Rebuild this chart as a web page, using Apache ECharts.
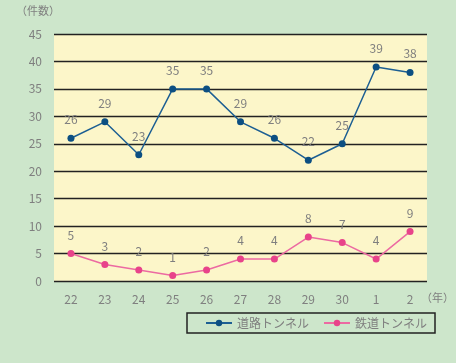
<!DOCTYPE html>
<html><head><meta charset="utf-8">
<script src="https://cdn.jsdelivr.net/npm/echarts@6/dist/echarts.min.js"></script>
<style>html,body{margin:0;padding:0;background:#cde6cb;}#c{width:456px;height:363px;}</style>
</head><body><div id="c"></div>
<script>
const categories = ['22','23','24','25','26','27','28','29','30','1','2'];
const roadTunnel = [26,29,23,35,35,29,26,22,25,39,38];
const railTunnel = [5,3,2,1,2,4,4,8,7,4,9];
const yTicks = {min:0, max:45, interval:5};
const font = '"Noto Sans CJK JP", "Noto Sans", sans-serif';
const gray = '#7f7f7f';
const chart = echarts.init(document.getElementById('c'));
chart.setOption({
  backgroundColor:'#cde6cb',
  animation:false,
  textStyle:{fontFamily:font},
  grid:{left:54,right:29,top:34,bottom:82,show:true,backgroundColor:'#fcf6c9',borderWidth:0},
  graphic:[
    {type:'text',left:16,top:5,style:{text:'（件数）',fill:gray,font:'11px '+font}},
    {type:'text',left:421,top:292,style:{text:'（年）',fill:gray,font:'11px '+font}}
  ],
  legend:{
    left:187, top:313,
    padding:[4,8,4,18],
    borderColor:'#222', borderWidth:1.5,
    itemWidth:26, itemHeight:8, itemGap:14,
    textStyle:{color:gray,fontSize:12,fontFamily:font},
    data:['道路トンネル','鉄道トンネル']
  },
  xAxis:{type:'category',data:categories,boundaryGap:true,
    axisLine:{show:false},axisTick:{show:false},
    axisLabel:{color:gray,fontSize:12,margin:12,fontFamily:font}},
  yAxis:{type:'value',min:yTicks.min,max:yTicks.max,interval:yTicks.interval,
    axisLine:{show:false},axisTick:{show:false},
    axisLabel:{color:gray,fontSize:12,margin:12,fontFamily:font},
    splitLine:{lineStyle:{color:'#222',width:1.3}}},
  series:[
    {name:'道路トンネル',type:'line',data:roadTunnel,symbol:'circle',symbolSize:7,
      itemStyle:{color:'#0c4f82'},lineStyle:{color:'#1d5f93',width:1.5},
      label:{show:true,position:'top',distance:9,color:gray,fontSize:12,fontFamily:font}},
    {name:'鉄道トンネル',type:'line',data:railTunnel,symbol:'circle',symbolSize:7,
      itemStyle:{color:'#e8438a'},lineStyle:{color:'#ec6aa2',width:1.5},
      label:{show:true,position:'top',distance:9,color:gray,fontSize:12,fontFamily:font}}
  ]
});
</script></body></html>
